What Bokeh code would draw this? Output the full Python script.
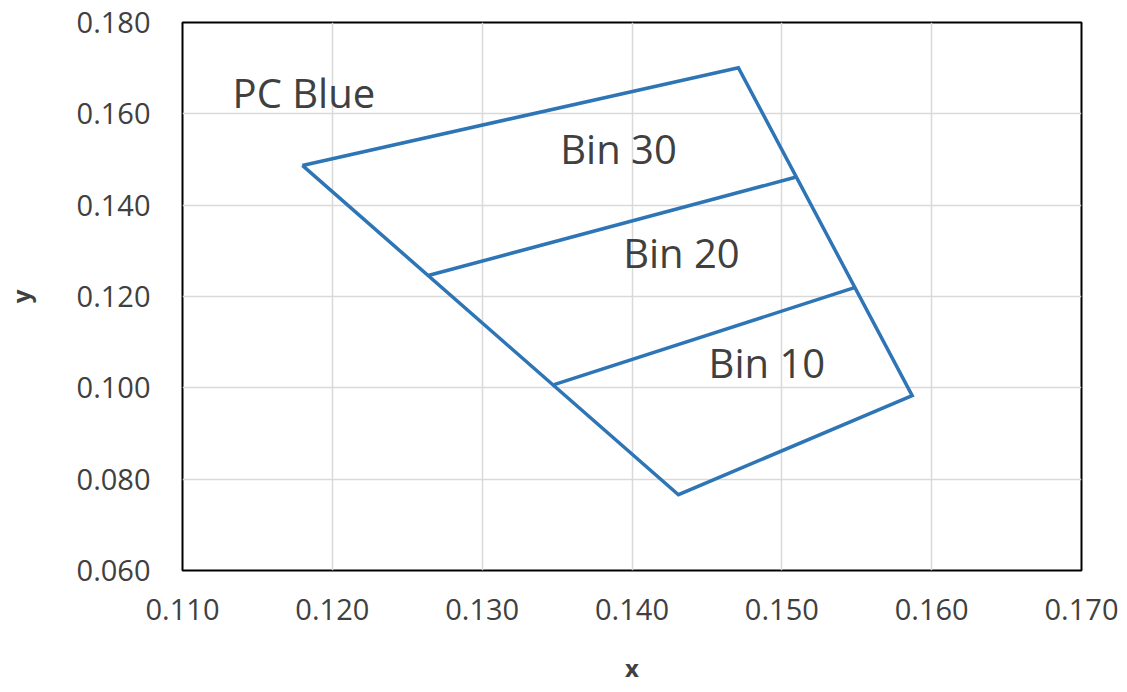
from bokeh.plotting import figure
from bokeh.models import ColumnDataSource, Range1d, FixedTicker, NumeralTickFormatter
from bokeh.core.properties import value
from bokeh.embed import file_html
from bokeh.resources import INLINE

# Outline of the PC Blue region (closed)
outline_x = [0.1180, 0.1471, 0.1587, 0.1431, 0.1180]
outline_y = [0.1487, 0.1701, 0.0983, 0.0766, 0.1487]

# Bin divider lines
bin20_x = [0.1264, 0.1509]
bin20_y = [0.1246, 0.1461]
bin10_x = [0.1348, 0.1549]
bin10_y = [0.1007, 0.1220]

# Text labels
label_text = ["PC Blue", "Bin 30", "Bin 20", "Bin 10"]
label_x = [0.1181, 0.1391, 0.1433, 0.1490]
label_y = [0.1647, 0.1524, 0.1296, 0.1056]

x_ticks = [0.110, 0.120, 0.130, 0.140, 0.150, 0.160, 0.170]
y_ticks = [0.060, 0.080, 0.100, 0.120, 0.140, 0.160, 0.180]

FONT = "Open Sans"
LINE = "#2E75B6"
TXT = "#404040"

p = figure(frame_width=899, frame_height=548, output_backend="svg", toolbar_location=None,
           x_range=Range1d(0.110, 0.170), y_range=Range1d(0.060, 0.180),
           min_border_left=182, min_border_right=38, min_border_top=22, min_border_bottom=100)

p.outline_line_color = "black"
p.outline_line_width = 2
p.background_fill_color = "white"
p.border_fill_color = "white"

p.xaxis.ticker = FixedTicker(ticks=x_ticks)
p.yaxis.ticker = FixedTicker(ticks=y_ticks)
p.xaxis.formatter = NumeralTickFormatter(format="0.000")
p.yaxis.formatter = NumeralTickFormatter(format="0.000")

for ax in (p.xaxis[0], p.yaxis[0]):
    ax.axis_line_color = None
    ax.major_tick_line_color = None
    ax.minor_tick_line_color = None
    ax.major_tick_out = 0
    ax.major_tick_in = 0
    ax.minor_tick_out = 0
    ax.major_label_text_font = FONT
    ax.major_label_text_font_size = "29px"
    ax.major_label_text_color = TXT
    ax.axis_label_text_font = FONT
    ax.axis_label_text_font_size = "24px"
    ax.axis_label_text_font_style = "bold"
    ax.axis_label_text_color = TXT

p.xaxis.axis_label = "x"
p.yaxis.axis_label = "y"
p.xaxis.major_label_standoff = 28
p.yaxis.major_label_standoff = 32
p.xaxis.axis_label_standoff = 28
p.yaxis.axis_label_standoff = 37

p.grid.grid_line_color = "#d9d9d9"
p.grid.grid_line_width = 1.5
p.xgrid.ticker = FixedTicker(ticks=x_ticks)
p.ygrid.ticker = FixedTicker(ticks=y_ticks)

p.line(outline_x, outline_y, line_color=LINE, line_width=3.5, line_join="miter")
p.line(bin20_x, bin20_y, line_color=LINE, line_width=3.5)
p.line(bin10_x, bin10_y, line_color=LINE, line_width=3.5)

src = ColumnDataSource(dict(x=label_x, y=label_y, t=label_text))
p.text(x="x", y="y", text="t", source=src, text_align="center", text_baseline="middle",
       text_font=value(FONT), text_font_size="40px", text_color=TXT)

open("out.html", "w").write(file_html(p, INLINE))
